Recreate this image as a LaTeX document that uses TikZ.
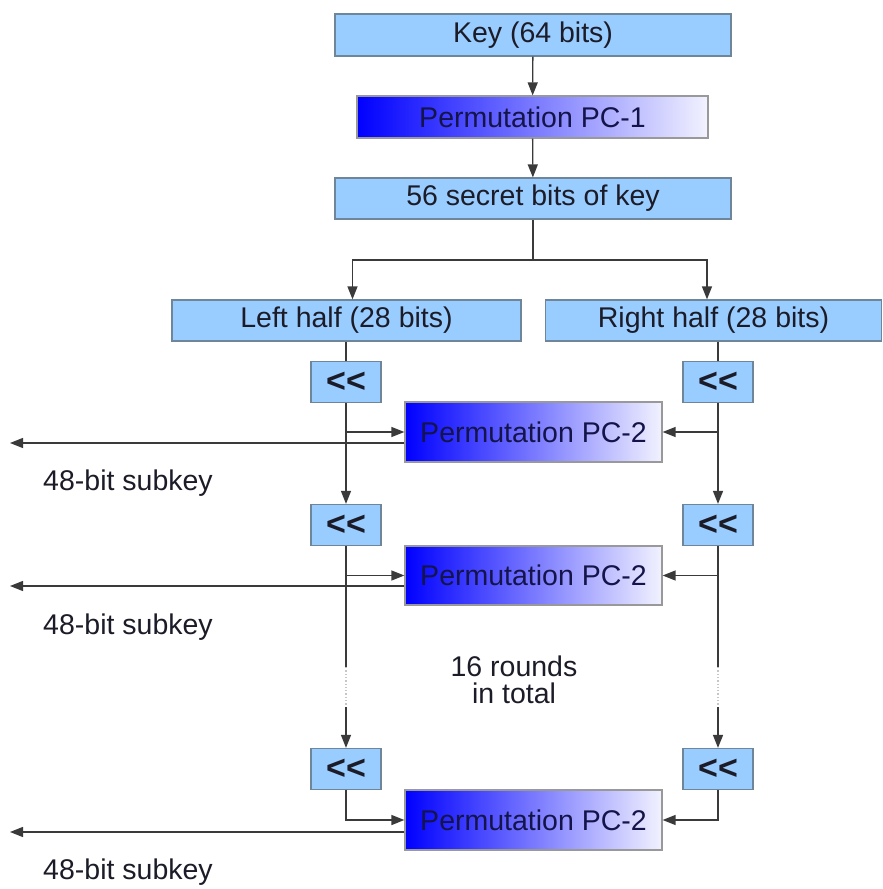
\documentclass[tikz,border=0pt]{standalone}
\usepackage{fontspec}
\setmainfont{Liberation Sans}
\usetikzlibrary{arrows.meta,calc}
\definecolor{boxblue}{HTML}{99CCFF}
\definecolor{boxedge}{HTML}{6F8599}
\definecolor{linecol}{HTML}{3A3A3A}
\definecolor{txt}{HTML}{1C1C28}
\definecolor{pctxt}{HTML}{14144A}
\definecolor{pcend}{HTML}{F2F2FF}
\tikzset{
  lb/.style={draw=boxedge, line width=1.2pt, fill=boxblue, text=txt, inner sep=0pt,
    font=\fontsize{28.5}{30}\selectfont},
  pcbox/.style={draw=gray!80, line width=1.2pt, left color=blue, right color=pcend,
    text=pctxt, inner sep=0pt, font=\fontsize{28.5}{30}\selectfont},
  shbox/.style={lb, minimum width=70pt, minimum height=41pt, font=\fontsize{34}{30}\bfseries\selectfont},
  conn/.style={draw=linecol, line width=1.3pt},
  arr/.style={conn, -{Triangle[length=13pt,width=10pt]}},
  lbl/.style={text=txt, font=\fontsize{28.5}{27}\selectfont, inner sep=0pt, align=center}
}
\begin{document}
\begin{tikzpicture}[x=1pt,y=-1pt]
\useasboundingbox (0,0) rectangle (883,889);
% top chain
\node[lb, minimum width=396pt, minimum height=42pt] (key) at (533,35) {Key (64 bits)};
\node[pcbox, minimum width=351pt, minimum height=42pt] (pc1) at (532.5,117) {Permutation PC-1};
\node[lb, minimum width=396pt, minimum height=41pt] (secret) at (533,198.5) {56 secret bits of key};
\node[lb, minimum width=349pt, minimum height=41pt] (left) at (346.5,320.5) {Left half (28 bits)};
\node[lb, minimum width=336pt, minimum height=41pt] (right) at (713.5,320.5) {Right half (28 bits)};
% rounds
\node[shbox] (sl1) at (346,382) {<{}<};
\node[shbox] (sr1) at (718,382) {<{}<};
\node[pcbox, minimum width=257pt, minimum height=60pt] (pca) at (533.5,432) {Permutation PC-2};
\node[shbox] (sl2) at (346,525) {<{}<};
\node[shbox] (sr2) at (718,525) {<{}<};
\node[pcbox, minimum width=257pt, minimum height=59pt] (pcb) at (533.5,575.5) {Permutation PC-2};
\node[shbox] (sl3) at (346,769) {<{}<};
\node[shbox] (sr3) at (718,769) {<{}<};
\node[pcbox, minimum width=257pt, minimum height=60pt] (pcc) at (533.5,820) {Permutation PC-2};
% labels
\node[lbl] (k1) at (128,483) {48-bit subkey};
\node[lbl] (k2) at (128,627) {48-bit subkey};
\node[lbl] (k3) at (128,872) {48-bit subkey};
\node[lbl] (rounds) at (514,680) {16 rounds\\in total};
% free ends
\coordinate (sp) at (533,260);
\coordinate (o1) at (10,443);
\coordinate (o2) at (10,586);
\coordinate (o3) at (10,832);
\coordinate (dl1) at (346,667);
\coordinate (dl2) at (346,707);
\coordinate (dr1) at (718,667);
\coordinate (dr2) at (718,707);
% top connectors
\draw[arr] (key) -- (pc1);
\draw[arr] (pc1) -- (secret);
\draw[conn] (secret.south) -- (sp);
\draw[arr] (sp) -| ([xshift=6pt]left.north);
\draw[arr] (sp) -| ([xshift=-6.5pt]right.north);
\draw[conn] (sl1.north |- left.south) -- (sl1.north);
\draw[conn] (sr1.north |- right.south) -- (sr1.north);
% round 1
\draw[arr] (sl1) -- (sl2);
\draw[arr] (sr1) -- (sr2);
\draw[arr] (pca.west -| sl1) -- (pca.west);
\draw[arr] (pca.east -| sr1) -- (pca.east);
\draw[arr] ([yshift=-11pt]pca.west) -- (o1);
% round 2
\draw[conn] (sl2.south) -- (dl1);
\draw[conn, draw=gray!45, dotted] (dl1) -- (dl2);
\draw[arr] (dl2) -- (sl3.north);
\draw[conn] (sr2.south) -- (dr1);
\draw[conn, draw=gray!45, dotted] (dr1) -- (dr2);
\draw[arr] (dr2) -- (sr3.north);
\draw[arr] (pcb.west -| sl2) -- (pcb.west);
\draw[arr] (pcb.east -| sr2) -- (pcb.east);
\draw[arr] ([yshift=-10.5pt]pcb.west) -- (o2);
% round 16
\draw[arr] (sl3.south) |- (pcc.west);
\draw[arr] (sr3.south) |- (pcc.east);
\draw[arr] ([yshift=-12pt]pcc.west) -- (o3);
\end{tikzpicture}
\end{document}
